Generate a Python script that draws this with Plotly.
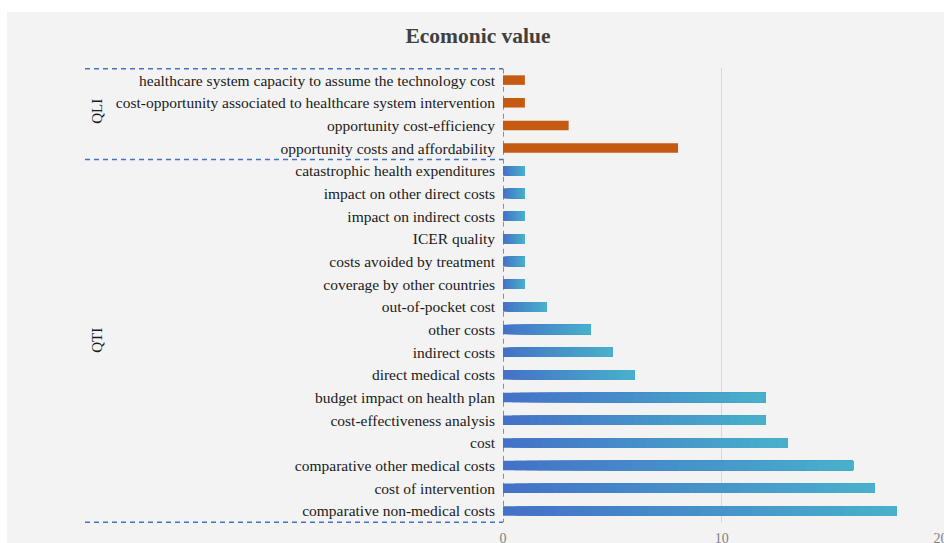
import plotly.graph_objects as go

# Categories, top to bottom
qli_labels = [
    "healthcare system capacity to assume the technology cost",
    "cost-opportunity associated to healthcare system intervention",
    "opportunity cost-efficiency",
    "opportunity costs and affordability",
]
qli_values = [1, 1, 3, 8]

qti_labels = [
    "catastrophic health expenditures",
    "impact on other direct costs",
    "impact on indirect costs",
    "ICER quality",
    "costs avoided by treatment",
    "coverage by other countries",
    "out-of-pocket cost",
    "other costs",
    "indirect costs",
    "direct medical costs",
    "budget impact on health plan",
    "cost-effectiveness analysis",
    "cost",
    "comparative other medical costs",
    "cost of intervention",
    "comparative non-medical costs",
]
qti_values = [1, 1, 1, 1, 1, 1, 2, 4, 5, 6, 12, 12, 13, 16, 17, 18]

group_names = ["QLI", "QTI"]
x_ticks = [0, 10, 20]

all_labels = qli_labels + qti_labels

W, H = 944, 543
L, R, T, B = 503, 3, 68, 20
BAR_W = 0.42
SERIF = "Liberation Serif, Times New Roman, serif"
DASH_BLUE = "#4472c4"

fig = go.Figure()

# Orange bars for the qualitative group
fig.add_trace(go.Bar(
    y=qli_labels, x=qli_values, orientation="h", width=BAR_W,
    marker=dict(color="#c55a11", line=dict(width=0)),
    hoverinfo="x+y", showlegend=False,
))

# Horizontal blue-to-cyan gradient for the quantitative bars:
# each layer starts further right and covers to the bar's end.
N = 30
c0 = (68, 114, 200)
c1 = (72, 176, 202)
for k in range(N):
    t = k / (N - 1)
    col = "rgb({},{},{})".format(*[round(a + (b - a) * t) for a, b in zip(c0, c1)])
    fig.add_trace(go.Bar(
        y=qti_labels,
        x=[v * (1 - k / N) for v in qti_values],
        base=[v * k / N for v in qti_values],
        orientation="h", width=BAR_W,
        marker=dict(color=col, line=dict(width=0)),
        hoverinfo="skip", showlegend=False,
    ))

n = len(all_labels)
split = len(qli_labels) - 0.5
PW = W - L - R
shapes = [
    # chart background panel
    dict(type="rect", xref="paper", yref="paper",
         x0=(7 - L) / PW, x1=1.01,
         y0=-B / (H - T - B) - 0.01, y1=1 + (T - 12) / (H - T - B),
         fillcolor="#f3f3f3", line=dict(width=0), layer="below"),
]
# dashed group brackets
for yv in [-0.5, split, n - 0.5]:
    shapes.append(dict(type="line", xref="paper", yref="y",
                       x0=(85 - L) / PW, x1=0, y0=yv, y1=yv,
                       line=dict(color=DASH_BLUE, width=1.5, dash="5px,4px")))
shapes.append(dict(type="line", xref="x", yref="y", x0=0, x1=0,
                   y0=-0.5, y1=n - 0.5,
                   line=dict(color=DASH_BLUE, width=1.5, dash="5px,4px")))

annotations = [
    dict(text=group_names[0], xref="paper", yref="y",
         x=(97 - L) / PW, y=(len(qli_labels) - 1) / 2 - 0.1,
         xanchor="center", yanchor="middle",
         showarrow=False, textangle=-90,
         font=dict(family=SERIF, size=15, color="#1a1a1a")),
    dict(text=group_names[1], xref="paper", yref="y",
         x=(97 - L) / PW, y=len(qli_labels) + (len(qti_labels) - 1) / 2,
         xanchor="center", yanchor="middle",
         showarrow=False, textangle=-90,
         font=dict(family=SERIF, size=15, color="#1a1a1a")),
]

fig.update_layout(
    width=W, height=H,
    margin=dict(l=L, r=R, t=T, b=B, autoexpand=False),
    paper_bgcolor="white",
    plot_bgcolor="rgba(0,0,0,0)",
    barmode="overlay",
    title=dict(text="<b>Ecomonic value</b>", x=478 / W, xref="container",
               y=1 - 35 / H, yref="container", xanchor="center", yanchor="middle",
               font=dict(family=SERIF, size=21.5, color="#404040")),
    xaxis=dict(range=[0, 20.02], tickvals=x_ticks, showgrid=True,
               gridcolor="#d9d9d9", gridwidth=1, zeroline=False,
               showline=False, ticks="", ticklabeloverflow="allow",
               automargin=False, ticklabelstandoff=5,
               tickfont=dict(family=SERIF, size=14, color="#7f7f7f")),
    yaxis=dict(type="category", categoryorder="array", categoryarray=all_labels,
               autorange="reversed", showgrid=False, zeroline=False,
               showline=False, ticks="", ticklabelstandoff=7, automargin=False,
               tickfont=dict(family=SERIF, size=15.5, color="#1a1a1a")),
    shapes=shapes,
    annotations=annotations,
)

fig.write_html("out.html")
